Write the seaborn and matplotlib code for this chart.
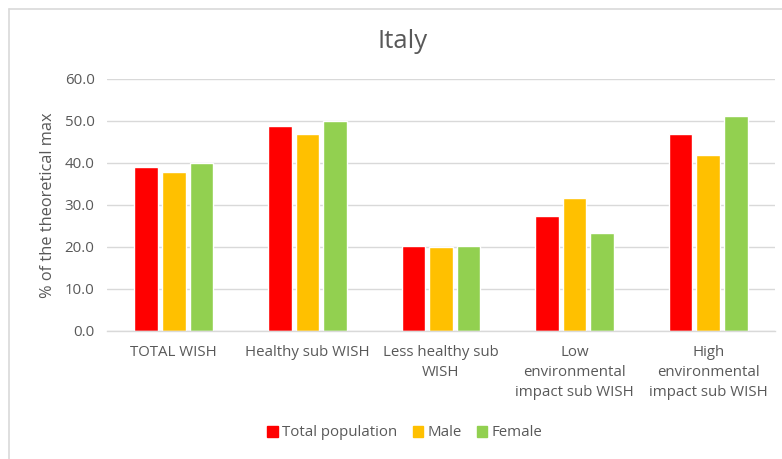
import matplotlib
matplotlib.use("Agg")
import matplotlib.pyplot as plt
from matplotlib.lines import Line2D
import seaborn as sns
import pandas as pd

categories = ["TOTAL WISH", "Healthy sub WISH", "Less healthy sub\nWISH",
              "Low\nenvironmental\nimpact sub WISH", "High\nenvironmental\nimpact sub WISH"]
series = ["Total population", "Male", "Female"]
total_population = [39.1, 48.7, 20.2, 27.4, 47.0]
male = [37.8, 46.9, 20.0, 31.7, 41.9]
female = [40.0, 50.0, 20.2, 23.3, 51.1]
colors = ["#FF0000", "#FFC000", "#92D050"]
yticks = [0, 10, 20, 30, 40, 50, 60]

rows = []
for name, vals in zip(series, [total_population, male, female]):
    for cat, v in zip(categories, vals):
        rows.append({"category": cat, "series": name, "value": v})
df = pd.DataFrame(rows)

sns.set_theme(style="white")
plt.rcParams["font.family"] = ["Open Sans", "DejaVu Sans"]
text_color = "#595959"

fig = plt.figure(figsize=(7.82, 4.59), dpi=100)
ax = fig.add_axes([107 / 782, 1 - 331 / 459, 668 / 782, 252 / 459])

sns.barplot(data=df, x="category", y="value", hue="series", order=categories,
            hue_order=series, palette=colors, width=0.62, gap=0.15,
            saturation=1, ax=ax, legend=False)

ax.set_ylim(0, 60)
ax.set_yticks(yticks)
ax.set_yticklabels([f"{t:.1f}" for t in yticks], color=text_color, fontsize=10.8)
ax.set_xticks(range(len(categories)))
ax.set_xticklabels(categories, color=text_color, fontsize=10.8, linespacing=1.45)
ax.tick_params(axis="x", length=0, pad=10)
ax.tick_params(axis="y", length=0, pad=9)
ax.set_xlim(-0.5, len(categories) - 0.5)
ax.grid(axis="y", color="#D9D9D9", linewidth=1)
ax.set_axisbelow(True)
for s in ["top", "right", "left"]:
    ax.spines[s].set_visible(False)
ax.spines["bottom"].set_color("#D9D9D9")
ax.spines["bottom"].set_linewidth(1)
ax.set_xlabel("")
ax.set_ylabel("% of the theoretical max", color=text_color, fontsize=11.8, labelpad=6)

fig.text(403 / 782, 1 - 42 / 459, "Italy", ha="center", va="center",
         fontsize=18.5, color=text_color)

handles = [plt.Rectangle((0, 0), 1, 1, color=c) for c in colors]
fig.legend(handles, series, loc="center", bbox_to_anchor=(405 / 782, 1 - 433 / 459),
           ncol=3, frameon=False, fontsize=10.8, labelcolor=text_color,
           handlelength=0.7, handleheight=0.7, handletextpad=0.3, columnspacing=1.0)

# chart frame
fig.add_artist(Line2D([9 / 782, 1], [1 - 9 / 459, 1 - 9 / 459], color="#D9D9D9", lw=1.2,
                      transform=fig.transFigure))
fig.add_artist(Line2D([9 / 782, 9 / 782], [0, 1 - 9 / 459], color="#D9D9D9", lw=1.2,
                      transform=fig.transFigure))

fig.savefig("out.png", dpi=100)
